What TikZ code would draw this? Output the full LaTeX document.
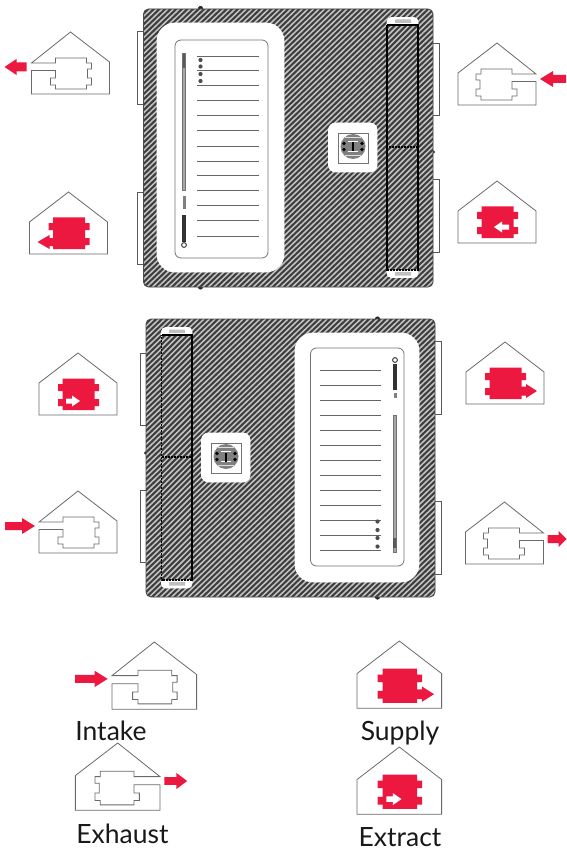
\documentclass[tikz,border=0pt]{standalone}
\usepackage{fontspec}
\setmainfont{Lato}
\definecolor{iconred}{HTML}{EC1840}
\definecolor{iconline}{HTML}{6A6A6A}
\definecolor{casing}{HTML}{3E3E3E}
\definecolor{stripe}{HTML}{C4C4C4}
\tikzset{
  outline/.style={draw=iconline,line width=0.8pt,line join=miter},
  redfill/.style={fill=iconred,draw=none},
  tab/.style={draw=black!65,fill=white,line width=0.7pt},
  label/.style={font=\fontsize{26.5}{26.5}\selectfont,anchor=base,inner sep=0pt,text=black!90},
  rule/.style={draw=black!60,line width=0.9pt},
  strip/.style={draw=black,line width=1.4pt,dash pattern=on 1.2pt off 0.3pt},
  hatchline/.style={draw=stripe,line width=1.5pt},
}
\newcommand{\modpath}{(23.5,25.5) -- (55.5,25.5) -- (55.5,31) -- (60,31) -- (60,38) -- (55.5,38) -- (55.5,46) -- (60,46) -- (60,53) -- (55.5,53) -- (55.5,57) -- (23.5,57) -- (23.5,53) -- (19,53) -- (19,46) -- (23.5,46) -- (23.5,38) -- (19,38) -- (19,31) -- (23.5,31) -- cycle}
\newcommand{\housepath}{(0,30) -- (39,0) -- (78,30) -- (78,62) -- (0,62) -- cycle}
\newcommand{\solidhouse}{\path[outline] \housepath; \path[redfill] \modpath;}
\newcommand{\ducthouse}{\path[outline] (0,31) -- (39,0) -- (78,30) -- (78,62) -- (0,62) -- (0,38.5) -- (24,38.5) -- (24,46) -- (19,46) -- (19,53) -- (24,53) -- (24,57) -- (55,57) -- (55,53) -- (60,53) -- (60,46) -- (56,46) -- (56,37) -- (60,37) -- (60,31) -- (55,31) -- (55,26) -- (24,26) -- (24,31) -- cycle;}
% \harrow[colour]{tail x}{y}{shaft half height}{head half height}{head start x}{tip x}
\newcommand{\harrow}[7][iconred]{\path[fill=#1] (#2,#3-#4) -- (#6,#3-#4) -- (#6,#3-#5) -- (#7,#3) -- (#6,#3+#5) -- (#6,#3+#4) -- (#2,#3+#4) -- cycle;}
\newcommand{\casingbox}[4]{%
  \path[fill=casing,rounded corners=5pt] (#1,#2) rectangle (#3,#4);
  \begin{scope}
    \clip[rounded corners=5pt] (#1,#2) rectangle (#3,#4);
    \foreach \k in {0,5.6,...,580}
      \draw[hatchline] (#1-290+\k,#4+2) -- (#1-290+\k+292,#2);
  \end{scope}
}
% switch face centred on (#1,#2)
\newcommand{\switchface}[2]{%
  \draw[fill=white,draw=white,line width=0.8pt,rounded corners=7pt] (#1-24.5,#2-23.5) rectangle (#1+24,#2+25.5);
  \draw[draw=black!55,line width=0.8pt] (#1-15,#2-13.5) rectangle (#1+15,#2+16.5);
  \fill[black!50] (#1,#2) circle (12.5);
  \draw[white!88!black,line width=1pt] (#1-8,#2-9) -- (#1+8,#2-9) (#1-8,#2+9) -- (#1+8,#2+9);
  \draw[white,line width=1.2pt] (#1-5,#2-5) -- (#1+5,#2-5) (#1-5,#2+5) -- (#1+5,#2+5);
  \fill[black] (#1-9,#2-3) circle (1.8) (#1+9,#2-3) circle (1.8) (#1-9,#2+3) circle (1.8) (#1+9,#2+3) circle (1.8);
  \draw[black,line width=1.4pt] (#1,#2-4) -- (#1,#2+5);
}
\begin{document}
\begin{tikzpicture}[x=1pt,y=-1pt]
\useasboundingbox[fill=white] (0,0) rectangle (566,850);

% ---------- top unit ----------
\draw[tab] (137.5,31.5) rectangle (145,104);
\draw[tab] (137.5,192) rectangle (145,264);
\draw[tab] (432,43) rectangle (439,115);
\draw[tab] (432,179) rectangle (439,252);
\fill[black!85] (200.5,8.5) circle (2.6);
\fill[black!85] (200.5,287) circle (2.6);
\fill[black!85] (433.5,152) circle (1.6);
\casingbox{143.5}{9}{433}{287}
\draw[black!70,line width=0.9pt,rounded corners=5pt] (143.5,9) rectangle (433,287);
\draw[fill=white,draw=white,line width=0.8pt,rounded corners=18pt] (157,23) rectangle (284,272);
\draw[fill=white,draw=black!55,line width=0.8pt,rounded corners=6pt] (175,40) rectangle (268,258);
\foreach \yy in {56,70.5,85.5,100.5,115.5,130,146,161,175.5,190.5,205,220,236}
  \draw[rule] (197,\yy) -- (258.5,\yy);
\path[fill=black!35,draw=black!55,line width=0.4pt] (182.5,53) rectangle (185.5,190);
\fill[black!65] (182.7,54) rectangle (185.3,68);
\foreach \yy in {60,66.5,74,81}
  \fill[black!70] (200.5,\yy) circle (2.1);
\fill[black!80] (182,215) rectangle (186,242);
\fill[black!50] (182.5,196) rectangle (185.5,209);
\draw[black!80,line width=0.9pt] (184,245) circle (2.4);
% strip
\draw[fill=white,draw=white,line width=0.6pt,rounded corners=4pt] (387,17.5) rectangle (418,32);
\draw[fill=white,draw=white,line width=0.6pt,rounded corners=4pt] (387,262) rectangle (418,277.5);
\fill[black!25] (395,19.5) rectangle (411,23) (395,272) rectangle (411,275.5);
\begin{scope}
  \clip (387,25) rectangle (418,270);
  \path[fill=casing] (387,25) rectangle (418,270);
  \foreach \k in {0,5.6,...,340}
    \draw[hatchline] (140+\k,272) -- (140+\k+250,22);
\end{scope}
\draw[strip] (387,25) rectangle (418,270);
\draw[strip] (387,147) -- (418,147);
\switchface{353}{146.5}

% ---------- bottom unit ----------
\draw[tab] (140,353) rectangle (147,425);
\draw[tab] (140,490) rectangle (147,562);
\draw[tab] (434,341) rectangle (441,414);
\draw[tab] (434,501) rectangle (441,574);
\fill[black!85] (377.5,319) circle (2.6);
\fill[black!85] (377.5,597) circle (2.6);
\fill[black!85] (145.5,453) circle (1.6);
\casingbox{146}{319}{435}{597}
\draw[black!70,line width=0.9pt,rounded corners=5pt] (146,319) rectangle (435,597);
\draw[fill=white,draw=white,line width=0.8pt,rounded corners=18pt] (295,333) rectangle (419,582);
\draw[fill=white,draw=black!55,line width=0.8pt,rounded corners=6pt] (310.5,348) rectangle (404,566);
\foreach \yy in {370,385,400,415,430,445,460,475,490,505,520,535,550}
  \draw[rule] (320,\yy) -- (381,\yy);
\path[fill=black!35,draw=black!55,line width=0.4pt] (393,415) rectangle (396,552);
\fill[black!65] (393.2,538) rectangle (395.8,548);
\foreach \yy in {521.5,530,538,546.5}
  \fill[black!70] (377.5,\yy) circle (2.1);
\fill[black!80] (393,364) rectangle (397,390);
\fill[black!50] (393.5,393) rectangle (396.5,398);
\draw[black!80,line width=0.9pt] (395,360) circle (2.4);
% strip
\draw[fill=white,draw=white,line width=0.6pt,rounded corners=4pt] (161.5,327.5) rectangle (192,342);
\draw[fill=white,draw=white,line width=0.6pt,rounded corners=4pt] (161.5,573) rectangle (192,588);
\fill[black!25] (169,329.5) rectangle (185,333) (169,582) rectangle (185,585.5);
\begin{scope}
  \clip (161.5,335) rectangle (192,580);
  \path[fill=casing] (161.5,335) rectangle (192,580);
  \foreach \k in {0,5.6,...,340}
    \draw[hatchline] (-90+\k,582) -- (-90+\k+250,332);
\end{scope}
\draw[strip] (161.5,335) rectangle (192,580);
\draw[strip] (161.5,457) -- (192,457);
\switchface{226}{456.5}

% ---------- icons around the units ----------
\begin{scope}[shift={(31.5,32)}]
  \ducthouse \harrow{-5}{35}{4.5}{8}{-15}{-27}
\end{scope}
\begin{scope}[shift={(29.5,192)}]
  \solidhouse
  \harrow{30}{50}{4}{7}{20}{8}
\end{scope}
\begin{scope}[shift={(536,43)},xscale=-1]
  \ducthouse \harrow{-30}{36}{4}{8}{-17}{-4}
\end{scope}
\begin{scope}[shift={(458,181)}]
  \solidhouse
  \harrow[white]{51}{46}{2.5}{5.5}{44}{36}
\end{scope}
\begin{scope}[shift={(39,353)}]
  \solidhouse
  \harrow[white]{27}{48}{2.5}{5.5}{33}{41}
\end{scope}
\begin{scope}[shift={(39,491)}]
  \ducthouse \harrow{-34}{35}{4}{8}{-17}{-4}
\end{scope}
\begin{scope}[shift={(466,342)}]
  \solidhouse
  \harrow{50}{49}{4.5}{7}{60}{71}
\end{scope}
\begin{scope}[shift={(543.5,502)},xscale=-1]
  \ducthouse \harrow{-4}{37}{4}{8}{-15}{-23}
\end{scope}

% ---------- legend ----------
\begin{scope}[shift={(112,642)},scale=1.085] \ducthouse \harrow{-34}{34}{3.6}{7.5}{-16}{-4} \end{scope}
\node[label] (intake) at (111,740) {Intake};
\begin{scope}[shift={(160,743)},xscale=-1.085,yscale=1.085] \ducthouse \harrow{-4}{35}{3.6}{7.5}{-15}{-25} \end{scope}
\node[label] (exhaust) at (122.5,843) {Exhaust};
\begin{scope}[shift={(357,641)},scale=1.085]
  \solidhouse
  \harrow{50}{49}{4.5}{7}{60}{71}
\end{scope}
\node[label] (supply) at (400,740) {Supply};
\begin{scope}[shift={(357,747)},scale=1.085]
  \solidhouse
  \harrow[white]{27}{48}{2.5}{5.5}{33}{41}
\end{scope}
\node[label] (extract) at (400,846) {Extract};
\end{tikzpicture}
\end{document}
